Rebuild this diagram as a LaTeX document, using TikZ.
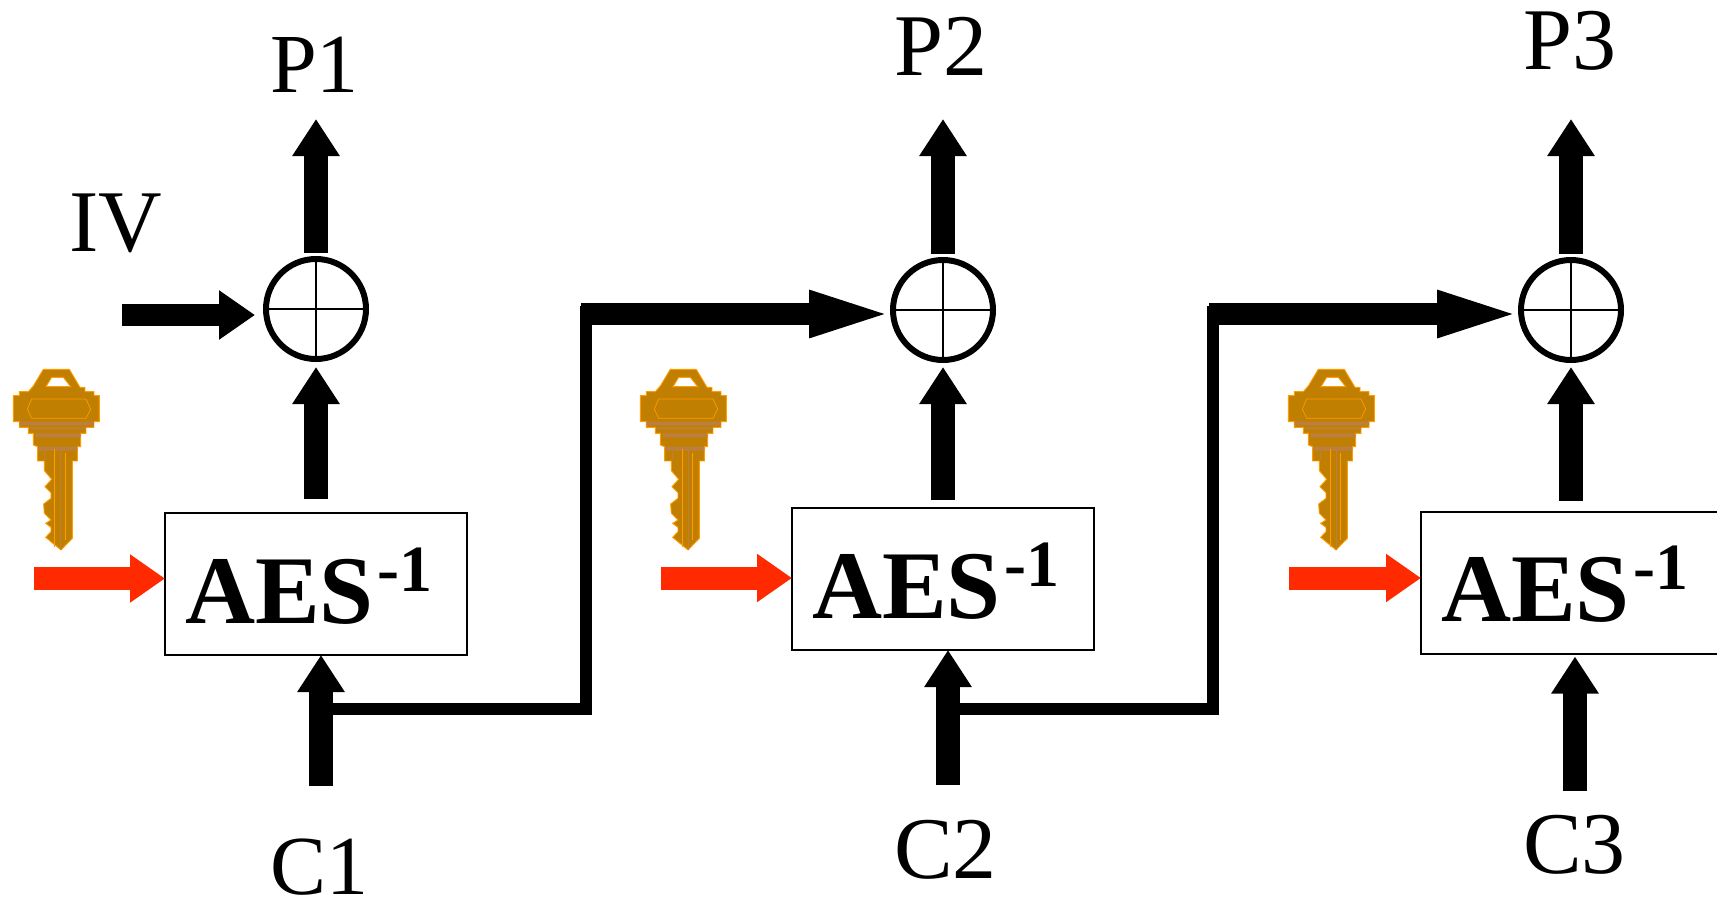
\documentclass[tikz,border=0pt]{standalone}
\usepackage{fontspec}
\setmainfont{Liberation Serif}
\usetikzlibrary{arrows.meta,calc}
\definecolor{keybody}{HTML}{C07F00}
\definecolor{keyedge}{HTML}{FF9C00}
\definecolor{keyband}{HTML}{BC7F40}
\definecolor{redarrow}{HTML}{FF2A00}
\newcommand{\aeslabel}{\hspace*{20pt}{\fontsize{97}{97}\selectfont\bfseries AES}\hspace{4pt}\raisebox{32pt}{\fontsize{66}{66}\selectfont\bfseries -1}}
\tikzset{
  fat/.style={line width=23.5pt,-{Triangle[length=37pt,width=45pt]}},
  fatside/.style={line width=22pt,shorten >=-7pt,-{Triangle[length=91pt,width=40pt]}},
  ivarrow/.style={line width=22pt,-{Triangle[length=36pt,width=47pt]}},
  thin feed/.style={line width=12pt,line join=miter},
  keyarrow/.style={draw=redarrow,line width=23pt,-{Triangle[length=35pt,width=46pt]}},
  aesbox/.style={draw,line width=2pt,inner sep=0pt,outer sep=0pt,text width=302pt,text height=110pt,text depth=32pt,align=left},
  xorc/.style={circle,draw,line width=6pt,minimum size=100pt,inner sep=0pt,outer sep=0pt,
    path picture={\draw[line width=2pt] (path picture bounding box.north)--(path picture bounding box.south)
      (path picture bounding box.west)--(path picture bounding box.east);}},
  lab/.style={anchor=base west,inner sep=0pt,font=\fontsize{84}{84}\selectfont},
  labbig/.style={anchor=base west,inner sep=0pt,font=\fontsize{88}{88}\selectfont},
  keyscale/.style={x=.3333pt,y=-.3333pt},
  pics/keyicon/.style={code={
    \fill[keybody,even odd rule,draw=keyedge,line width=.9pt]
      (130,58)--(208,58)--(240,112)--(255,112)--(255,125)--(282,125)--(282,137)--(298,137)--(298,215)
      --(282,215)--(282,232)--(258,232)--(258,250)--(242,250)--(242,290)--(232,290)--(232,333)--(217,333)
      --(217,565)--(183,600)--(137,562)--(153,545)--(153,532)--(137,520)--(153,510)--(133,490)--(131,462)
      --(153,445)--(153,428)--(135,410)--(155,388)--(133,362)--(133,333)--(113,333)--(113,290)--(100,285)
      --(100,250)--(85,250)--(85,232)--(58,232)--(58,215)--(40,215)--(40,137)--(58,137)--(58,125)--(85,125)
      --(100,108)--cycle
      (155,82)--(190,82)--(212,110)--(138,110)--cycle;
    \fill[keyband] (58,215) rectangle (282,226) (90,232) rectangle (258,238) (108,250) rectangle (242,262)
      (115,290) rectangle (232,302);
    \draw[keyedge,line width=.7pt] (95,147)--(258,147)--(272,177)--(258,205)--(95,205)--(82,177)--cycle;
    \draw[keyedge,line width=1pt] (165,296)--(165,590) (197,310)--(197,570);
    \draw[keyband,line width=1pt] (135,296)--(135,330) (183,300)--(183,600);
  }}
}
\begin{document}
\begin{tikzpicture}[x=1pt,y=-1pt]
\useasboundingbox (0,0) rectangle (1717,900);
\clip (0,0) rectangle (1717,900);
% boxes
\node[aesbox] (a1) at (316,584) {\aeslabel};
\node[aesbox] (a2) at (943,579) {\aeslabel};
\node[aesbox] (a3) at (1572,582.5) {\aeslabel};
% labels
\node[lab] (p1) at (270,92) {P1};
\node[labbig] (p2) at (894,75) {P2};
\node[labbig] (p3) at (1523,69) {P3};
\node[labbig] (iv) at (69,251) {IV};
\node[lab] (c1) at (270,894) {C1};
\node[labbig] (c2) at (894,878) {C2};
\node[labbig] (c3) at (1523,873) {C3};
% free ends
\coordinate (t1) at (316,119);
\coordinate (t2) at (943,119);
\coordinate (t3) at (1571,119);
\coordinate (s1) at (321,786);
\coordinate (s2) at (948,785);
\coordinate (s3) at (1575,791);
\coordinate (ivs) at (121.5,315);
\coordinate (f1a) at (586,708.5);
\coordinate (f1b) at (586,306);
\coordinate (f1c) at (581,314);
\coordinate (f2a) at (1213,708.5);
\coordinate (f2b) at (1213,306);
\coordinate (f2c) at (1209,314);
\coordinate (k1) at (33.5,578.5);
\coordinate (k2) at (661,578);
\coordinate (k3) at (1289,578);
\coordinate (ky1) at (0,350);
\coordinate (ky2) at (627,350);
\coordinate (ky3) at (1275,350);
% xors
\node[xorc] (x1) at (316,309) {};
\node[xorc] (x2) at (943,310) {};
\node[xorc] (x3) at (1571,310) {};
% xor to plaintext
\draw[fat,shorten <=6pt] (x1.north) -- (t1);
\draw[fat,shorten <=6pt] (x2.north) -- (t2);
\draw[fat,shorten <=6pt] (x3.north) -- (t3);
% box to xor
\draw[fat,shorten <=14pt,shorten >=8pt] (a1.north -| x1) -- (x1.south);
\draw[fat,shorten <=8pt,shorten >=7pt] (a2.north -| x2) -- (x2.south);
\draw[fat,shorten <=11pt,shorten >=7pt] (a3.north -| x3) -- (x3.south);
% ciphertext to box
\draw[fat] (s1) -- (s1 |- a1.south);
\draw[fat] (s2) -- (s2 |- a2.south);
\draw[fat,shorten >=3pt] (s3) -- (s3 |- a3.south);
% feedback
\draw[thin feed] (s1 |- f1a) -- (f1a) -- (f1b);
\draw[fatside] (f1c) -- (f1c -| x2.west);
\draw[thin feed] (s2 |- f2a) -- (f2a) -- (f2b);
\draw[fatside] (f2c) -- (f2c -| x3.west);
% IV
\draw[ivarrow,shorten >=11pt] (ivs) -- (ivs -| x1.west);
% key arrows
\draw[keyarrow] (k1) -- (k1 -| a1.west);
\draw[keyarrow] (k2) -- (k2 -| a2.west);
\draw[keyarrow] (k3) -- (k3 -| a3.west);
% keys
\pic[keyscale] at (ky1) {keyicon};
\pic[keyscale] at (ky2) {keyicon};
\pic[keyscale] at (ky3) {keyicon};
\end{tikzpicture}
\end{document}
